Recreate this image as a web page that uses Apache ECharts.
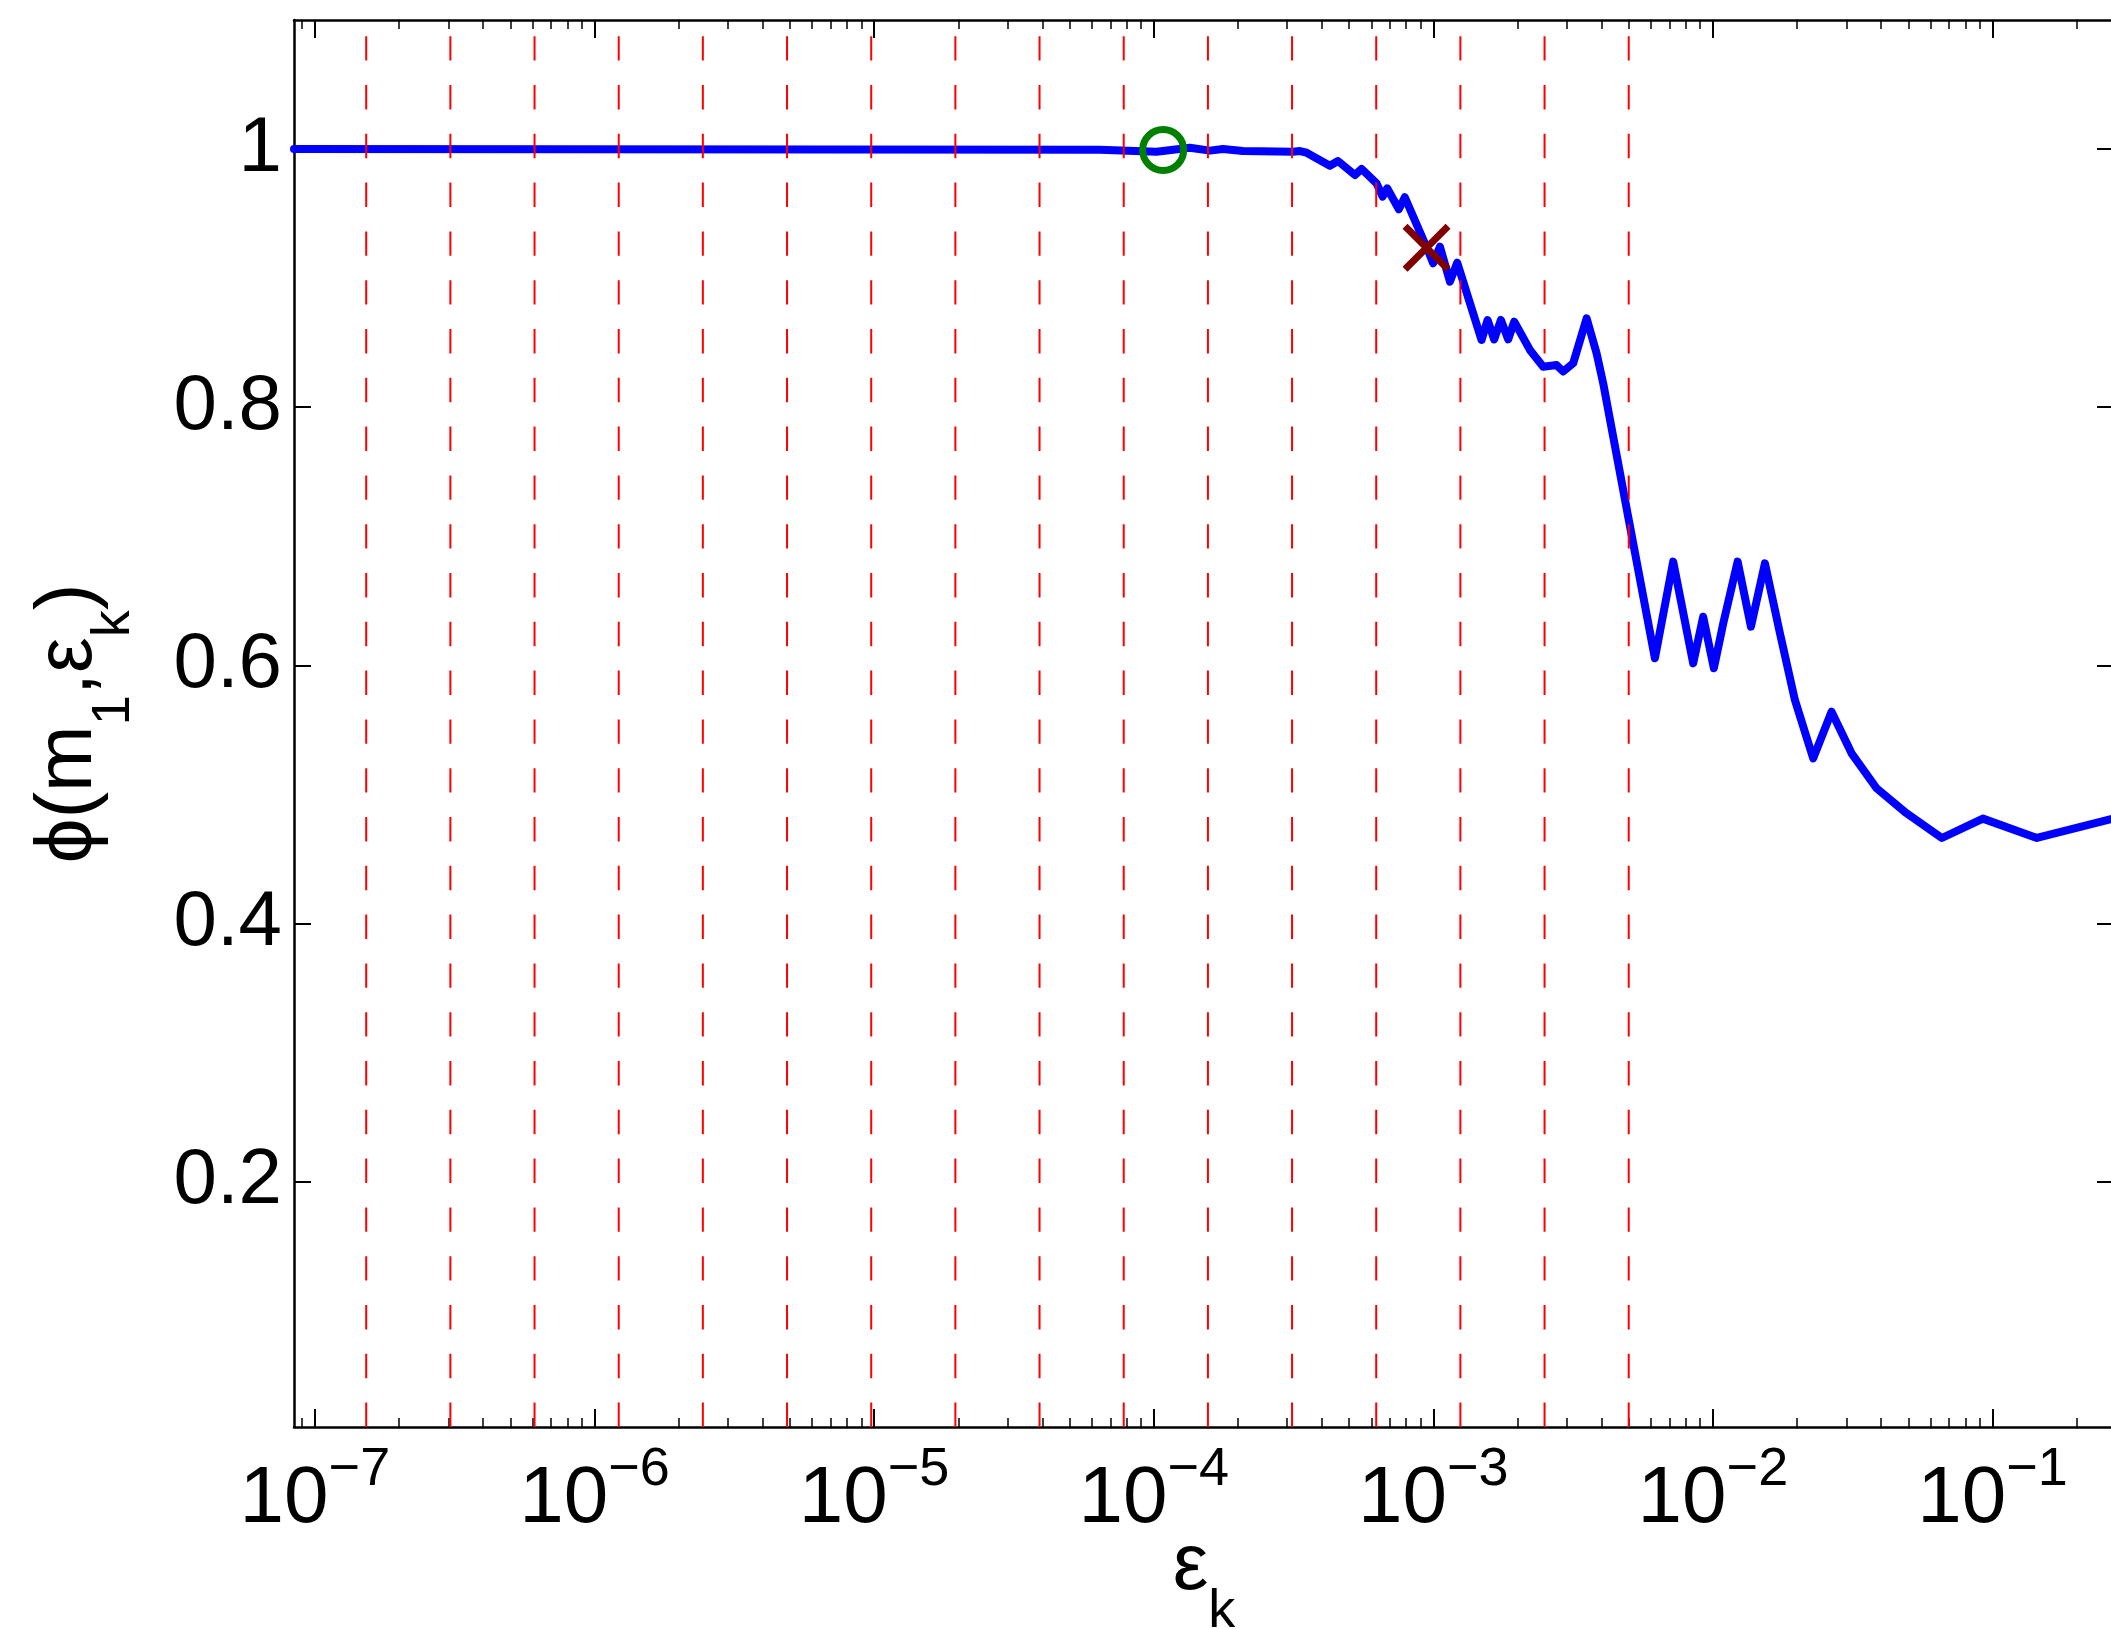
<!DOCTYPE html>
<html>
<head>
<meta charset="utf-8">
<script src="https://cdn.jsdelivr.net/npm/echarts@6/dist/echarts.min.js"></script>
<style>
html,body{margin:0;padding:0;background:#ffffff;}
#chart{width:2111px;height:1629px;}
</style>
</head>
<body>
<div id="chart"></div>
<script>
// ---------------- data ----------------
const epsK = [8.42e-8, 6.42e-5, 1.024e-4, 1.347e-4, 1.589e-4, 1.768e-4, 2.084e-4, 3.147e-4, 3.334e-4, 3.523e-4,
  4.267e-4, 4.56e-4, 5.244e-4, 5.54e-4, 6.27e-4, 6.59e-4, 6.84e-4, 7.53e-4, 7.91e-4, 9.72e-4,
  9.99e-4, 1.056e-3, 1.147e-3, 1.218e-3, 1.488e-3, 1.564e-3, 1.651e-3, 1.745e-3, 1.853e-3, 1.948e-3,
  2.216e-3, 2.472e-3, 2.76e-3, 2.914e-3, 3.165e-3, 3.535e-3, 3.838e-3, 4.052e-3, 4.978e-3, 6.203e-3,
  7.21e-3, 8.5e-3, 9.23e-3, 1.008e-2, 1.089e-2, 1.226e-2, 1.368e-2, 1.535e-2, 1.737e-2, 1.965e-2,
  2.284e-2, 2.657e-2, 3.133e-2, 3.849e-2, 4.93e-2, 6.59e-2, 9.24e-2, 0.1441, 0.272];
const phiVals = [1.0, 0.9995, 0.998, 1.001, 0.9988, 1.0, 0.9985, 0.998, 0.9985, 0.9972,
  0.9871, 0.9908, 0.9799, 0.9846, 0.9735, 0.9631, 0.9696, 0.9534, 0.9627, 0.918,
  0.9115, 0.9244, 0.8973, 0.912, 0.8521, 0.8676, 0.8526, 0.8676, 0.8526, 0.8663,
  0.8444, 0.8314, 0.8327, 0.8277, 0.8341, 0.8689, 0.8418, 0.8186, 0.7152, 0.6055,
  0.6804, 0.6016, 0.6377, 0.5978, 0.6326, 0.6804, 0.63, 0.6791, 0.6249, 0.5732,
  0.528, 0.5641, 0.5319, 0.5048, 0.4854, 0.4663, 0.4813, 0.4663, 0.4815];

const refEps = [1.526e-7, 3.052e-7, 6.104e-7, 1.221e-6, 2.441e-6, 4.883e-6, 9.766e-6, 1.953e-5,
  3.906e-5, 7.813e-5, 1.563e-4, 3.125e-4, 6.25e-4, 1.25e-3, 2.5e-3, 5e-3];

const circlePoint = [1.081e-4, 0.9993];
const crossPoint = [9.46e-4, 0.9235];

const xRange = [8.42e-8, 0.272];
const yRange = [0.01, 1.1];

const xMajorTicks = [1e-7, 1e-6, 1e-5, 1e-4, 1e-3, 1e-2, 1e-1];
const xTickExponents = ['\u22127', '\u22126', '\u22125', '\u22124', '\u22123', '\u22122', '\u22121'];
const xMinorMantissas = [2, 3, 4, 5, 6, 7, 8, 9];
const xMinorDecades = [1e-8, 1e-7, 1e-6, 1e-5, 1e-4, 1e-3, 1e-2, 1e-1];
const yTicks = [0.2, 0.4, 0.6, 0.8, 1];
const yTickLabels = ['0.2', '0.4', '0.6', '0.8', '1'];

// ---------------- build ----------------
const FONT = "'Liberation Sans', Arial, Helvetica, sans-serif";
const xMinorTicks = [];
xMinorDecades.forEach(d => xMinorMantissas.forEach(m => xMinorTicks.push(m * d)));

const lineData = epsK.map((x, i) => [x, phiVals[i]]);

const supRich = {
  b: { fontSize: 80, lineHeight: 97, fontFamily: FONT, color: '#000', verticalAlign: 'bottom' },
  e: { fontSize: 54, lineHeight: 54, fontFamily: FONT, color: '#000', verticalAlign: 'top' }
};
const subRich = {
  b: { fontSize: 80, lineHeight: 80, fontFamily: FONT, color: '#000', verticalAlign: 'top' },
  s: { fontSize: 54, lineHeight: 54, fontFamily: FONT, color: '#000', verticalAlign: 'top', padding: [58, 0, 0, 0] }
};

function xLabel(v) {
  let idx = -1;
  xMajorTicks.forEach((t, i) => { if (Math.abs(Math.log10(t) - Math.log10(v)) < 1e-6) idx = i; });
  if (idx < 0) return '';
  return '{b|10}{e|' + xTickExponents[idx] + '}';
}
function yLabel(v) {
  let idx = -1;
  yTicks.forEach((t, i) => { if (Math.abs(t - v) < 1e-9) idx = i; });
  return idx < 0 ? '' : yTickLabels[idx];
}

const axisLineStyle = { color: '#000', width: 2.5 };
const xCommon = { type: 'log', logBase: 10, min: xRange[0], max: xRange[1], gridIndex: 0, splitLine: { show: false } };
const yCommon = { type: 'value', min: yRange[0], max: yRange[1], gridIndex: 0, splitLine: { show: false } };

const refSeries = refEps.map(v => ({
  type: 'line',
  xAxisIndex: 0, yAxisIndex: 0,
  data: [[v, yRange[0]], [v, yRange[1]]],
  showSymbol: false,
  symbol: 'none',
  silent: true,
  z: 3,
  lineStyle: { color: '#ff0000', width: 2, type: [24.4, 24.4] }
}));

const option = {
  backgroundColor: '#ffffff',
  animation: false,
  grid: { left: 294, top: 20, width: 1820, height: 1407, containLabel: false, outerBoundsMode: 'none' },
  xAxis: [
    Object.assign({}, xCommon, {
      position: 'bottom',
      axisLine: { show: true, onZero: false, lineStyle: axisLineStyle },
      axisTick: { show: true, inside: true, length: 18, customValues: xMajorTicks, lineStyle: { color: '#000', width: 2 } },
      axisLabel: { show: true, margin: 16, customValues: xMajorTicks, formatter: xLabel, rich: supRich },
      name: '{b|\u03b5}{s|k}',
      nameLocation: 'middle',
      nameGap: 100,
      nameMoveOverlap: false,
      nameTextStyle: { rich: subRich }
    }),
    Object.assign({}, xCommon, {
      position: 'bottom',
      axisLine: { show: false, onZero: false },
      axisTick: { show: true, inside: true, length: 9, customValues: xMinorTicks, lineStyle: { color: '#000', width: 1.5 } },
      axisLabel: { show: false }
    }),
    Object.assign({}, xCommon, {
      position: 'top',
      axisLine: { show: true, onZero: false, lineStyle: axisLineStyle },
      axisTick: { show: true, inside: true, length: 18, customValues: xMajorTicks, lineStyle: { color: '#000', width: 2 } },
      axisLabel: { show: false }
    }),
    Object.assign({}, xCommon, {
      position: 'top',
      axisLine: { show: false, onZero: false },
      axisTick: { show: true, inside: true, length: 9, customValues: xMinorTicks, lineStyle: { color: '#000', width: 1.5 } },
      axisLabel: { show: false }
    })
  ],
  yAxis: [
    Object.assign({}, yCommon, {
      position: 'left',
      axisLine: { show: true, onZero: false, lineStyle: axisLineStyle },
      axisTick: { show: true, inside: true, length: 17, customValues: yTicks, lineStyle: { color: '#000', width: 2 } },
      axisLabel: { show: true, margin: 12, customValues: yTicks, formatter: yLabel, fontSize: 78, fontFamily: FONT, color: '#000' },
      name: '{b|\u03d5(m}{s|1}{b|,\u03b5}{s|k}{b|)}',
      nameLocation: 'middle',
      nameGap: 185,
      nameRotate: 90,
      nameMoveOverlap: false,
      nameTextStyle: { rich: subRich }
    }),
    Object.assign({}, yCommon, {
      position: 'right',
      axisLine: { show: true, onZero: false, lineStyle: axisLineStyle },
      axisTick: { show: true, inside: true, length: 17, customValues: yTicks, lineStyle: { color: '#000', width: 2 } },
      axisLabel: { show: false }
    })
  ],
  series: [
    {
      type: 'line',
      xAxisIndex: 0, yAxisIndex: 0,
      data: lineData,
      showSymbol: false,
      symbol: 'none',
      silent: true,
      z: 2,
      lineStyle: { color: '#0000ff', width: 8, join: 'round', cap: 'round' }
    }
  ].concat(refSeries).concat([
    {
      type: 'scatter',
      xAxisIndex: 0, yAxisIndex: 0,
      data: [circlePoint],
      symbol: 'circle',
      symbolSize: 41,
      silent: true,
      z: 5,
      itemStyle: { color: 'rgba(0,0,0,0)', borderColor: '#008000', borderWidth: 7, opacity: 1 }
    },
    {
      type: 'scatter',
      xAxisIndex: 0, yAxisIndex: 0,
      data: [crossPoint],
      symbol: 'path://M0,0L10,10M10,0L0,10',
      symbolSize: 43,
      silent: true,
      z: 6,
      itemStyle: { color: 'rgba(0,0,0,0)', borderColor: '#800000', borderWidth: 7, opacity: 1 }
    }
  ])
};

const chart = echarts.init(document.getElementById('chart'), null, { renderer: 'canvas', width: 2111, height: 1629 });
chart.setOption(option);
</script>
</body>
</html>
